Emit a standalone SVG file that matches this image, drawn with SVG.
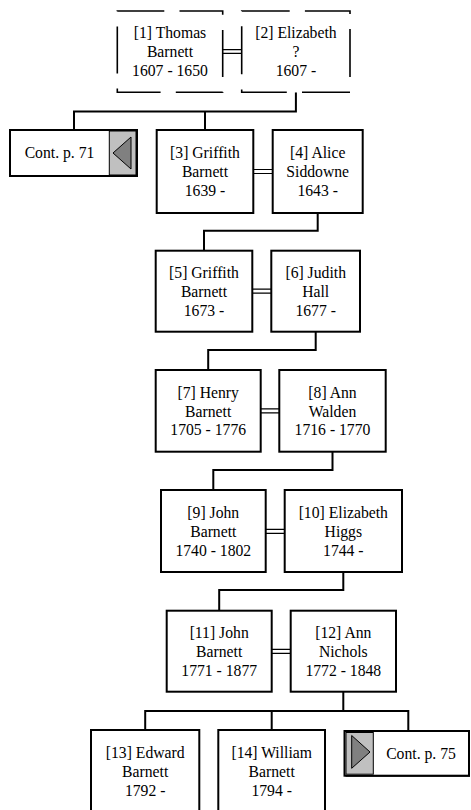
<svg xmlns="http://www.w3.org/2000/svg" width="471" height="810" viewBox="0 0 471 810">
<style>
.t{font-family:"Liberation Serif","Times New Roman",serif;font-size:15.7px;text-anchor:middle;fill:#000}
.box{fill:#fff;stroke:#000;stroke-width:2}
.dash{fill:#fff;stroke:#000;stroke-width:1.6}
.ln{fill:none;stroke:#000;stroke-width:2}
.dbl{fill:none;stroke:#000;stroke-width:1.2}
.gray{fill:#c0c0c0;stroke:#000;stroke-width:1}
.tri{fill:#808080;stroke:#000;stroke-width:1}
</style>
<rect width="471" height="810" fill="#fff"/>
<g id="connectors">
  <path class="dbl" d="M222.7 49.6H241.7M222.7 53.4H241.7"/>
  <path class="dbl" d="M253.3 169.5H272.7M253.3 173.5H272.7"/>
  <path class="dbl" d="M252.3 289.2H271.3M252.3 293.2H271.3"/>
  <path class="dbl" d="M260.7 408.9H279.3M260.7 412.9H279.3"/>
  <path class="dbl" d="M265.7 529.3H284.7M265.7 533.3H284.7"/>
  <path class="dbl" d="M271.7 649.3H290.7M271.7 653.3H290.7"/>
  <path class="ln" d="M295.9 92.3V111.6H74V130M205 111.6V130"/>
  <path class="ln" d="M317.7 213V230.7H204V250.7"/>
  <path class="ln" d="M315.7 331.7V350H208.2V370"/>
  <path class="ln" d="M332.5 451.7V470H213.3V490"/>
  <path class="ln" d="M343.3 572V590H219.2V610.7"/>
  <path class="ln" d="M343.3 691.7V711M145.2 730V711H408.3V731M271.7 711V730"/>
</g>
<g id="n1">
  <rect class="dash" x="117.3" y="11" width="105.4" height="81.3" stroke-dasharray="47 15.2"/>
  <text class="t" x="170" y="38.4">[1] Thomas</text>
  <text class="t" x="170" y="57.2">Barnett</text>
  <text class="t" x="170" y="76">1607 - 1650</text>
</g>
<g id="n2">
  <rect class="dash" x="241.7" y="11" width="108.3" height="81.3" stroke-dasharray="48 15.2"/>
  <text class="t" x="295.9" y="38.4">[2] Elizabeth</text>
  <text class="t" x="295.9" y="57.2">?</text>
  <text class="t" x="295.9" y="76">1607 -</text>
</g>
<g id="cont71">
  <rect x="11" y="131" width="127" height="46" fill="#000"/>
  <rect class="box" x="10" y="130" width="127" height="46"/>
  <rect class="gray" x="109.3" y="131" width="26.7" height="44"/>
  <polygon class="tri" points="113,153 131,137 131,169"/>
  <text class="t" x="59.5" y="157.8">Cont. p. 71</text>
</g>
<g id="n3">
  <rect class="box" x="156.7" y="130" width="96.6" height="83"/>
  <text class="t" x="205" y="158.3">[3] Griffith</text>
  <text class="t" x="205" y="177.1">Barnett</text>
  <text class="t" x="205" y="195.9">1639 -</text>
</g>
<g id="n4">
  <rect class="box" x="272.7" y="130" width="90" height="83"/>
  <text class="t" x="317.7" y="158.3">[4] Alice</text>
  <text class="t" x="317.7" y="177.1">Siddowne</text>
  <text class="t" x="317.7" y="195.9">1643 -</text>
</g>
<g id="n5">
  <rect class="box" x="155.7" y="250.7" width="96.6" height="81"/>
  <text class="t" x="204" y="278">[5] Griffith</text>
  <text class="t" x="204" y="296.8">Barnett</text>
  <text class="t" x="204" y="315.6">1673 -</text>
</g>
<g id="n6">
  <rect class="box" x="271.3" y="250.7" width="88.7" height="81"/>
  <text class="t" x="315.7" y="278">[6] Judith</text>
  <text class="t" x="315.7" y="296.8">Hall</text>
  <text class="t" x="315.7" y="315.6">1677 -</text>
</g>
<g id="n7">
  <rect class="box" x="155.7" y="370" width="105" height="81.7"/>
  <text class="t" x="208.2" y="397.7">[7] Henry</text>
  <text class="t" x="208.2" y="416.5">Barnett</text>
  <text class="t" x="208.2" y="435.3">1705 - 1776</text>
</g>
<g id="n8">
  <rect class="box" x="279.3" y="370" width="106.4" height="81.7"/>
  <text class="t" x="332.5" y="397.7">[8] Ann</text>
  <text class="t" x="332.5" y="416.5">Walden</text>
  <text class="t" x="332.5" y="435.3">1716 - 1770</text>
</g>
<g id="n9">
  <rect class="box" x="161" y="490" width="104.7" height="82"/>
  <text class="t" x="213.3" y="517.9">[9] John</text>
  <text class="t" x="213.3" y="536.7">Barnett</text>
  <text class="t" x="213.3" y="555.5">1740 - 1802</text>
</g>
<g id="n10">
  <rect class="box" x="284.7" y="490" width="117.3" height="82"/>
  <text class="t" x="343.3" y="517.9">[10] Elizabeth</text>
  <text class="t" x="343.3" y="536.7">Higgs</text>
  <text class="t" x="343.3" y="555.5">1744 -</text>
</g>
<g id="n11">
  <rect class="box" x="166.7" y="610.7" width="105" height="81"/>
  <text class="t" x="219.2" y="638">[11] John</text>
  <text class="t" x="219.2" y="656.8">Barnett</text>
  <text class="t" x="219.2" y="675.6">1771 - 1877</text>
</g>
<g id="n12">
  <rect class="box" x="290.7" y="610.7" width="105.3" height="81"/>
  <text class="t" x="343.3" y="638">[12] Ann</text>
  <text class="t" x="343.3" y="656.8">Nichols</text>
  <text class="t" x="343.3" y="675.6">1772 - 1848</text>
</g>
<g id="n13">
  <rect class="box" x="91" y="730" width="108.3" height="83"/>
  <text class="t" x="145.2" y="758.3">[13] Edward</text>
  <text class="t" x="145.2" y="777.1">Barnett</text>
  <text class="t" x="145.2" y="795.9">1792 -</text>
</g>
<g id="n14">
  <rect class="box" x="218.3" y="730" width="106.7" height="83"/>
  <text class="t" x="271.7" y="758.3">[14] William</text>
  <text class="t" x="271.7" y="777.1">Barnett</text>
  <text class="t" x="271.7" y="795.9">1794 -</text>
</g>
<g id="cont75">
  <rect x="345.5" y="732" width="124.5" height="44.7" fill="#000"/>
  <rect class="box" x="344.5" y="731" width="124.5" height="44.7"/>
  <rect class="gray" x="346" y="732.5" width="27.3" height="41.7"/>
  <polygon class="tri" points="351.7,735.5 351.7,768.3 370,752"/>
  <text class="t" x="421" y="758.6">Cont. p. 75</text>
</g>
</svg>
